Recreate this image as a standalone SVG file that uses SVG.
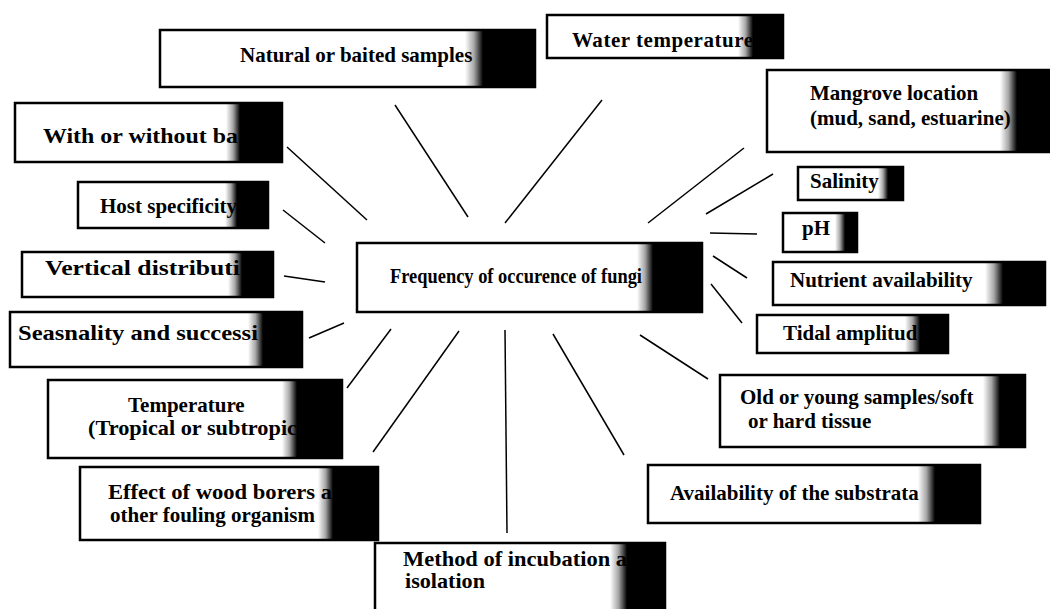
<svg xmlns="http://www.w3.org/2000/svg" width="1050" height="609" viewBox="0 0 1050 609">
<defs>
<linearGradient id="fade" x1="0" y1="0" x2="1" y2="0">
<stop offset="0" stop-color="#000" stop-opacity="0"/>
<stop offset="0.5" stop-color="#000" stop-opacity="0.35"/>
<stop offset="1" stop-color="#000" stop-opacity="1"/>
</linearGradient>
<style>
.bg{fill:#fff;stroke:none}
.bd{fill:none;stroke:#000;stroke-width:2.5}
.fd{fill:url(#fade)}
.bk{fill:#000}
text{font-family:"Liberation Serif","Times New Roman",serif;font-weight:bold;font-size:21px;fill:#000}
.cn line{stroke:#000;stroke-width:1.5}
</style>
</defs>
<rect width="1050" height="609" fill="#fff"/>
<g class="cn" id="connectors">
<line x1="395" y1="105" x2="468" y2="217"/>
<line x1="602" y1="100" x2="505" y2="223"/>
<line x1="744" y1="148" x2="648" y2="223"/>
<line x1="773" y1="174" x2="706" y2="214"/>
<line x1="710" y1="233" x2="757" y2="234"/>
<line x1="713" y1="256" x2="747" y2="278"/>
<line x1="711" y1="284" x2="742" y2="323"/>
<line x1="640" y1="335" x2="708" y2="379"/>
<line x1="553" y1="334" x2="624" y2="455"/>
<line x1="505" y1="330" x2="507" y2="533"/>
<line x1="459" y1="331" x2="373" y2="452"/>
<line x1="391" y1="329" x2="347" y2="388"/>
<line x1="344" y1="323" x2="309" y2="338"/>
<line x1="325" y1="282" x2="284" y2="276"/>
<line x1="325" y1="243" x2="283" y2="210"/>
<line x1="367" y1="220" x2="287" y2="147"/>
</g>
<g id="central">
<rect class="bg" x="357" y="243" width="345" height="69"/>
<text x="390" y="283" font-size="20" textLength="252" lengthAdjust="spacingAndGlyphs">Frequency of occurence of fungi</text>
<rect class="fd" x="637" y="243" width="16" height="69"/><rect class="bk" x="653" y="243" width="49" height="69"/>
<rect class="bd" x="357" y="243" width="345" height="69"/>
</g>
<g id="natural">
<rect class="bg" x="160" y="30" width="375" height="57"/>
<text x="240" y="62">Natural or baited samples</text>
<rect class="fd" x="465" y="30" width="18" height="57"/><rect class="bk" x="483" y="30" width="52" height="57"/>
<rect class="bd" x="160" y="30" width="375" height="57"/>
</g>
<g id="water">
<rect class="bg" x="547" y="15" width="236" height="43"/>
<text x="572" y="47" textLength="181">Water temperature</text>
<rect class="fd" x="738" y="15" width="15" height="43"/><rect class="bk" x="753" y="15" width="30" height="43"/>
<rect class="bd" x="547" y="15" width="236" height="43"/>
</g>
<g id="mangrove">
<rect class="bg" x="767" y="70" width="282" height="82"/>
<text x="810" y="100">Mangrove location</text>
<text x="810" y="125">(mud, sand, estuarine)</text>
<rect class="fd" x="1000" y="70" width="17" height="82"/><rect class="bk" x="1017" y="70" width="32" height="82"/>
<rect class="bd" x="767" y="70" width="282" height="82"/>
</g>
<g id="salinity">
<rect class="bg" x="798" y="167" width="105" height="33"/>
<text x="810" y="188" font-size="22">Salinity</text>
<rect class="fd" x="878" y="167" width="10" height="33"/><rect class="bk" x="888" y="167" width="15" height="33"/>
<rect class="bd" x="798" y="167" width="105" height="33"/>
</g>
<g id="ph">
<rect class="bg" x="783" y="213" width="74" height="39"/>
<text x="802" y="235" font-size="20">pH</text>
<rect class="fd" x="835" y="213" width="10" height="39"/><rect class="bk" x="845" y="213" width="12" height="39"/>
<rect class="bd" x="783" y="213" width="74" height="39"/>
</g>
<g id="nutrient">
<rect class="bg" x="773" y="262" width="272" height="43"/>
<text x="790" y="287" font-size="22">Nutrient availability</text>
<rect class="fd" x="985" y="262" width="18" height="43"/><rect class="bk" x="1003" y="262" width="42" height="43"/>
<rect class="bd" x="773" y="262" width="272" height="43"/>
</g>
<g id="tidal">
<rect class="bg" x="757" y="315" width="191" height="38"/>
<text x="783" y="340">Tidal amplitud</text>
<rect class="fd" x="905" y="315" width="15" height="38"/><rect class="bk" x="920" y="315" width="28" height="38"/>
<rect class="bd" x="757" y="315" width="191" height="38"/>
</g>
<g id="oldyoung">
<rect class="bg" x="720" y="375" width="305" height="72"/>
<text x="740" y="404">Old or young samples/soft</text>
<text x="748" y="428">or hard tissue</text>
<rect class="fd" x="983" y="375" width="17" height="72"/><rect class="bk" x="1000" y="375" width="25" height="72"/>
<rect class="bd" x="720" y="375" width="305" height="72"/>
</g>
<g id="availability">
<rect class="bg" x="648" y="465" width="332" height="58"/>
<text x="670" y="500" font-size="22">Availability of the substrata</text>
<rect class="fd" x="918" y="465" width="17" height="58"/><rect class="bk" x="935" y="465" width="45" height="58"/>
<rect class="bd" x="648" y="465" width="332" height="58"/>
</g>
<g id="method">
<rect class="bg" x="375" y="543" width="290" height="72"/>
<text x="403" y="566" font-size="19" textLength="224" lengthAdjust="spacingAndGlyphs">Method of incubation a</text>
<text x="405" y="588" font-size="19" textLength="80" lengthAdjust="spacingAndGlyphs">isolation</text>
<rect class="fd" x="610" y="543" width="17" height="72"/><rect class="bk" x="627" y="543" width="38" height="72"/>
<rect class="bd" x="375" y="543" width="290" height="72"/>
</g>
<g id="effect">
<rect class="bg" x="80" y="467" width="298" height="73"/>
<text x="108" y="499" font-size="20" textLength="224" lengthAdjust="spacingAndGlyphs">Effect of wood borers a</text>
<text x="110" y="522" font-size="20" textLength="205" lengthAdjust="spacingAndGlyphs">other fouling organism</text>
<rect class="fd" x="318" y="467" width="15" height="73"/><rect class="bk" x="333" y="467" width="45" height="73"/>
<rect class="bd" x="80" y="467" width="298" height="73"/>
</g>
<g id="temperature">
<rect class="bg" x="48" y="380" width="294" height="78"/>
<text x="128" y="412">Temperature</text>
<text x="88" y="435" textLength="209" lengthAdjust="spacingAndGlyphs">(Tropical or subtropic</text>
<rect class="fd" x="282" y="380" width="15" height="78"/><rect class="bk" x="297" y="380" width="45" height="78"/>
<rect class="bd" x="48" y="380" width="294" height="78"/>
</g>
<g id="seasonality">
<rect class="bg" x="10" y="312" width="292" height="55"/>
<text x="18" y="340" textLength="240" lengthAdjust="spacingAndGlyphs">Seasnality and successi</text>
<rect class="fd" x="248" y="312" width="15" height="55"/><rect class="bk" x="263" y="312" width="39" height="55"/>
<rect class="bd" x="10" y="312" width="292" height="55"/>
</g>
<g id="vertical">
<rect class="bg" x="22" y="252" width="251" height="45"/>
<text x="45" y="275" textLength="195" lengthAdjust="spacingAndGlyphs">Vertical distributi</text>
<rect class="fd" x="228" y="252" width="14" height="45"/><rect class="bk" x="242" y="252" width="31" height="45"/>
<rect class="bd" x="22" y="252" width="251" height="45"/>
</g>
<g id="host">
<rect class="bg" x="78" y="182" width="190" height="46"/>
<text x="100" y="213">Host specificity</text>
<rect class="fd" x="225" y="182" width="12" height="46"/><rect class="bk" x="237" y="182" width="31" height="46"/>
<rect class="bd" x="78" y="182" width="190" height="46"/>
</g>
<g id="bark">
<rect class="bg" x="15" y="103" width="267" height="59"/>
<text x="43" y="143" textLength="195" lengthAdjust="spacingAndGlyphs">With or without ba</text>
<rect class="fd" x="226" y="103" width="14" height="59"/><rect class="bk" x="240" y="103" width="42" height="59"/>
<rect class="bd" x="15" y="103" width="267" height="59"/>
</g>
</svg>
